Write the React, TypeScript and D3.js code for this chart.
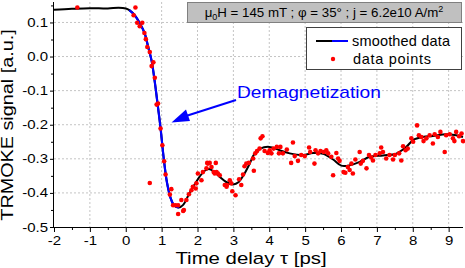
import React, { useEffect, useRef } from "react";
import * as d3 from "d3";

// smoothed curve
const smoothX = [-2, -1.5, -1, -0.5, -0.2, 0, 0.1, 0.25, 0.4, 0.53, 0.62, 0.72, 0.81, 0.9, 0.97, 1.06, 1.15, 1.25, 1.35, 1.48, 1.6, 1.78, 2.06, 2.2, 2.32, 2.45, 2.62, 2.8, 2.99, 3.15, 3.3, 3.45, 3.59, 3.75, 4.0, 4.29, 4.57, 4.94, 5.22, 5.5, 5.78, 6.01, 6.24, 6.52, 6.8, 7.17, 7.54, 7.82, 8.01, 8.28, 8.56, 8.93, 9.21, 9.4];
const smoothY = [0.137, 0.14, 0.142, 0.141, 0.143, 0.141, 0.136, 0.121, 0.096, 0.067, 0.03, -0.012, -0.075, -0.15, -0.21, -0.3, -0.37, -0.415, -0.437, -0.443, -0.435, -0.4, -0.352, -0.335, -0.33, -0.337, -0.353, -0.368, -0.375, -0.368, -0.345, -0.315, -0.285, -0.27, -0.265, -0.275, -0.284, -0.289, -0.283, -0.285, -0.302, -0.32, -0.319, -0.309, -0.294, -0.29, -0.285, -0.265, -0.245, -0.236, -0.233, -0.228, -0.231, -0.236];

// range of the curve drawn in blue (demagnetization)
const demagStart = 0.05;
const demagEnd = 1.5;

// measured points
const dataX = [-1.35, 0.27, 0.22, 0.32, 0.39, 0.46, 0.52, 0.56, 0.6, 0.67, 0.77, 0.72, 0.81, 0.9, 0.86, 0.97, 1.02, 1.07, 1.11, 0.67, 1.27, 1.23, 1.32, 1.39, 1.46, 1.55, 1.62, 1.46, 1.6, 1.69, 1.76, 1.83, 1.87, 1.95, 1.97, 2.01, 2.11, 2.15, 2.25, 2.29, 2.34, 2.39, 2.45, 2.53, 2.51, 2.62, 2.76, 2.81, 2.9, 2.94, 3.06, 2.27, 2.48, 2.57, 2.82, 2.97, 3.16, 3.22, 3.27, 3.31, 3.36, 3.43, 3.57, 3.55, 3.61, 3.66, 3.73, 3.76, 3.81, 3.87, 3.96, 4.01, 4.06, 4.12, 4.21, 4.27, 4.31, 4.38, 4.49, 4.61, 4.66, 4.71, 4.8, 4.89, 4.99, 5.11, 5.14, 5.26, 5.29, 5.36, 5.43, 5.52, 5.59, 5.64, 5.73, 5.78, 5.87, 5.92, 5.96, 6.07, 6.12, 6.19, 6.24, 6.29, 6.33, 6.4, 6.52, 6.55, 6.61, 6.71, 6.78, 6.84, 6.89, 6.96, 7.08, 7.12, 7.17, 7.26, 7.35, 7.45, 7.5, 7.62, 7.68, 7.73, 7.8, 7.86, 7.96, 8.01, 8.12, 8.17, 8.24, 8.3, 8.38, 8.47, 8.56, 8.61, 8.7, 8.77, 8.89, 8.93, 9.03, 9.12, 9.21, 9.29, 9.36, 9.4, 9.16];
const dataY = [0.144, 0.144, 0.121, 0.099, 0.089, 0.099, 0.069, 0.051, 0.028, 0.013, -0.017, -0.028, -0.062, -0.138, -0.141, -0.211, -0.26, -0.307, -0.346, -0.371, -0.389, -0.405, -0.436, -0.436, -0.436, -0.421, -0.45, -0.462, -0.453, -0.421, -0.404, -0.392, -0.382, -0.387, -0.372, -0.343, -0.363, -0.339, -0.328, -0.314, -0.312, -0.324, -0.339, -0.339, -0.312, -0.348, -0.377, -0.382, -0.363, -0.372, -0.407, -0.312, -0.343, -0.343, -0.377, -0.395, -0.36, -0.377, -0.346, -0.322, -0.314, -0.312, -0.335, -0.299, -0.284, -0.277, -0.27, -0.24, -0.234, -0.277, -0.283, -0.275, -0.284, -0.27, -0.265, -0.284, -0.265, -0.284, -0.273, -0.312, -0.252, -0.292, -0.306, -0.289, -0.292, -0.267, -0.28, -0.314, -0.275, -0.284, -0.277, -0.28, -0.275, -0.284, -0.294, -0.348, -0.283, -0.299, -0.306, -0.339, -0.341, -0.324, -0.333, -0.314, -0.343, -0.302, -0.28, -0.314, -0.306, -0.328, -0.289, -0.296, -0.305, -0.289, -0.284, -0.267, -0.28, -0.299, -0.289, -0.302, -0.289, -0.284, -0.305, -0.263, -0.275, -0.27, -0.24, -0.25, -0.202, -0.231, -0.236, -0.248, -0.24, -0.231, -0.255, -0.228, -0.236, -0.221, -0.28, -0.231, -0.228, -0.24, -0.221, -0.234, -0.226, -0.248, -0.248];

const xTicks = [-2, -1, 0, 1, 2, 3, 4, 5, 6, 7, 8, 9];
const yTicks = [-0.5, -0.4, -0.3, -0.2, -0.1, 0.0, 0.1];

const FONT = "Liberation Sans, Arial, sans-serif";
const STRETCH = "scale(1.2,1)"; // the original's lettering is wider than Arial

export default function App() {
  const ref = useRef<SVGSVGElement>(null);

  useEffect(() => {
    const svg = d3.select(ref.current);
    svg.selectAll("*").remove();

    const left = 54, right = 463, top = 2, bottom = 227;
    const x = d3.scaleLinear().domain([-2, 9.4]).range([left, right]);
    const y = d3.scaleLinear().domain([-0.5, 0.16]).range([bottom, top]);

    // text stretched horizontally around its anchor
    const label = (tx: number, ty: number, txt: string, size: number, extra = "") => {
      const g = svg.append("g").attr("transform", `translate(${tx},${ty}) ${extra} ${STRETCH}`);
      return g.append("text").attr("font-family", FONT).attr("font-size", size).text(txt);
    };

    // grid
    const grid = svg.append("g");
    grid.selectAll("line.vx")
      .data(xTicks.filter((d) => d > -2))
      .enter()
      .append("line")
      .attr("x1", (d) => x(d))
      .attr("x2", (d) => x(d))
      .attr("y1", top)
      .attr("y2", bottom)
      .attr("stroke", "#c4c4c4")
      .attr("stroke-dasharray", "2,2");
    grid.selectAll("line.hy")
      .data(yTicks.filter((d) => d > -0.5))
      .enter()
      .append("line")
      .attr("x1", left)
      .attr("x2", right)
      .attr("y1", (d) => y(d))
      .attr("y2", (d) => y(d))
      .attr("stroke", "#c4c4c4")
      .attr("stroke-dasharray", "2,2");

    // axes
    const xAxis = d3.axisBottom(x).tickValues(xTicks).tickSize(5).tickFormat((d) => String(d));
    const gx = svg.append("g").attr("transform", `translate(0,${bottom})`).call(xAxis);
    gx.select(".domain").attr("d", `M${left},0.5H${right}`);
    gx.selectAll("text")
      .attr("font-size", 12.5)
      .attr("font-family", FONT)
      .attr("dy", "0.78em")
      .attr("fill", "#000")
      .attr("transform", STRETCH);

    const xMinor = d3.axisBottom(x).tickValues(d3.range(-1.5, 9.4, 1)).tickSize(3).tickFormat(() => "");
    svg.append("g").attr("transform", `translate(0,${bottom})`).call(xMinor).select(".domain").remove();

    const yAxis = d3.axisLeft(y).tickValues(yTicks).tickSize(4).tickFormat((d) => d3.format(".1f")(d as number).replace("−", "-"));
    const gy = svg.append("g").attr("transform", `translate(${left},0)`).call(yAxis);
    gy.select(".domain").attr("d", `M-0.5,${top}V${bottom}`);
    gy.selectAll("text")
      .attr("font-size", 12.5)
      .attr("font-family", FONT)
      .attr("x", -5)
      .attr("fill", "#000")
      .attr("transform", STRETCH);

    const yMinor = d3.axisLeft(y).tickValues(d3.range(-0.45, 0.16, 0.1)).tickSize(3).tickFormat(() => "");
    svg.append("g").attr("transform", `translate(${left},0)`).call(yMinor).select(".domain").remove();

    // axis titles
    label(13, 125, "TRMOKE signal [a.u.]", 16.5, "rotate(-90)").attr("text-anchor", "middle");
    label(251, 263.5, "Time delay τ [ps]", 17).attr("text-anchor", "middle");

    // smoothed curve
    const curve = smoothX.map((d, i) => [d, smoothY[i]] as [number, number]);
    const line = d3.line<[number, number]>()
      .x((d) => x(d[0]))
      .y((d) => y(d[1]))
      .curve(d3.curveCatmullRom);
    svg.append("path")
      .attr("d", line(curve))
      .attr("fill", "none")
      .attr("stroke", "#000")
      .attr("stroke-width", 2);
    svg.append("path")
      .attr("d", line(curve.filter((d) => d[0] >= demagStart && d[0] <= demagEnd)))
      .attr("fill", "none")
      .attr("stroke", "#0000ff")
      .attr("stroke-width", 2.2);

    // data points
    svg.append("g")
      .selectAll("circle")
      .data(dataX.map((d, i) => [d, dataY[i]]))
      .enter()
      .append("circle")
      .attr("cx", (d) => x(d[0]))
      .attr("cy", (d) => y(d[1]))
      .attr("r", 2.3)
      .attr("fill", "#ff0000");

    // annotation
    label(237, 98, "Demagnetization", 16).attr("fill", "#0000ff");
    svg.append("line")
      .attr("x1", 236)
      .attr("y1", 100)
      .attr("x2", 186)
      .attr("y2", 116)
      .attr("stroke", "#0000ff")
      .attr("stroke-width", 2);
    svg.append("path")
      .attr("d", "M171.5,122.5L186,109.5L190,121Z")
      .attr("fill", "#0000ff");

    // parameter box
    svg.append("rect")
      .attr("x", 187.5)
      .attr("y", 2.5)
      .attr("width", 274)
      .attr("height", 20)
      .attr("fill", "#c0c0c0")
      .attr("stroke", "#808080");
    const info = svg.append("text")
      .attr("x", 324)
      .attr("y", 17)
      .attr("text-anchor", "middle")
      .attr("font-family", FONT)
      .attr("font-size", 13.3);
    info.append("tspan").text("μ");
    info.append("tspan").attr("font-size", 9).attr("dy", 3).text("0");
    info.append("tspan").attr("dy", -3).text("H = 145 mT ; φ = 35° ; j = 6.2e10 A/m");
    info.append("tspan").attr("font-size", 9).attr("dy", -5).text("2");

    // legend
    svg.append("rect")
      .attr("x", 306.5)
      .attr("y", 27.5)
      .attr("width", 155)
      .attr("height", 42)
      .attr("fill", "#fff")
      .attr("stroke", "#404040");
    svg.append("line").attr("x1", 316).attr("x2", 333).attr("y1", 41).attr("y2", 41).attr("stroke", "#000").attr("stroke-width", 2);
    svg.append("line").attr("x1", 332).attr("x2", 348).attr("y1", 41).attr("y2", 41).attr("stroke", "#0000ff").attr("stroke-width", 2);
    svg.append("circle").attr("cx", 333).attr("cy", 59).attr("r", 2.2).attr("fill", "#ff0000");
    svg.append("text").attr("x", 352).attr("y", 46).attr("font-family", FONT).attr("font-size", 14.5).attr("textLength", 98).text("smoothed data");
    svg.append("text").attr("x", 353).attr("y", 64).attr("font-family", FONT).attr("font-size", 14.5).attr("textLength", 78).text("data points");
  }, []);

  return (
    <svg
      ref={ref}
      width={465}
      height={268}
      style={{ position: "absolute", left: 0, top: 0, background: "#fff" }}
    />
  );
}
